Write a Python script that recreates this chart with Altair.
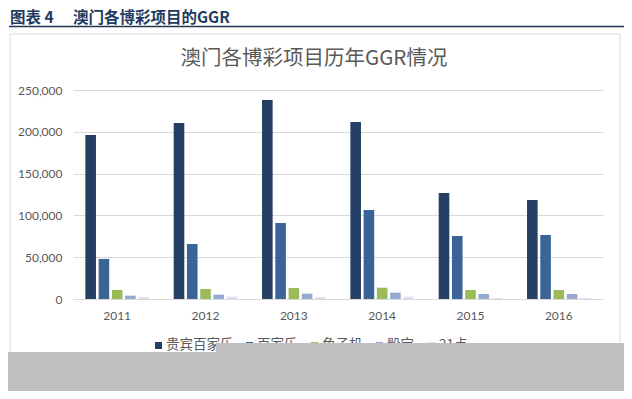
import altair as alt
import pandas as pd

# ---- data ----
years = ["2011", "2012", "2013", "2014", "2015", "2016"]
series = ["贵宾百家乐", "百家乐", "角子机", "骰宝", "21点"]
vip = [196200, 210500, 238000, 211700, 126800, 118400]
mass = [47900, 65800, 90900, 106500, 75400, 76600]
slot = [10800, 12000, 13200, 13500, 10800, 10800]
sicbo = [4000, 5200, 6400, 7600, 6000, 6000]
blackjack = [2400, 2800, 2400, 2800, 1200, 1200]
y_ticks = [0, 50000, 100000, 150000, 200000, 250000]

header_left = "图表 4"
header_right = "澳门各博彩项目的GGR"
chart_title = "澳门各博彩项目历年GGR情况"

colors = ["#243F63", "#3A6497", "#9BBB59", "#95AAD3", "#DCE3EE"]

values = [vip, mass, slot, sicbo, blackjack]
rows = []
for s, vals in zip(series, values):
    for yr, v in zip(years, vals):
        rows.append({"year": yr, "series": s, "value": v})
df = pd.DataFrame(rows)

one = pd.DataFrame({"k": [0]})

# page -> plot coordinate offsets (plot origin at page 73, 90)
OX, OY = 73, 90
CJK = "Noto Sans CJK SC"
GRAY_TXT = "#595959"

bars = alt.Chart(df).mark_bar().encode(
    x=alt.X("year:N", sort=years,
            scale=alt.Scale(paddingInner=0.25, paddingOuter=0.125),
            axis=alt.Axis(title=None, labelAngle=0, ticks=False, domain=True,
                          domainColor="#D9D9D9", labelColor=GRAY_TXT,
                          labelFont="Lato", labelFontSize=12, labelPadding=11, grid=False)),
    xOffset=alt.XOffset("series:N", sort=series,
                        scale=alt.Scale(paddingInner=0.2, paddingOuter=0.1)),
    y=alt.Y("value:Q", scale=alt.Scale(domain=[0, 250000], nice=False),
            axis=alt.Axis(title=None, values=y_ticks, format=",.0f", ticks=False,
                          domain=False, grid=True, gridColor="#D9D9D9",
                          labelColor=GRAY_TXT, labelFont="Lato", labelFontSize=12,
                          labelPadding=11)),
    color=alt.Color("series:N", sort=series,
                    scale=alt.Scale(domain=series, range=colors), legend=None),
)

box = alt.Chart(one).mark_rect(fill="transparent", stroke="#D9D9D9", strokeWidth=1).encode(
    x=alt.value(10 - OX), x2=alt.value(620 - OX),
    y=alt.value(34 - OY), y2=alt.value(370 - OY))

header_rule = alt.Chart(one).mark_rule(color="#1F3650", strokeWidth=1.5).encode(
    x=alt.value(9 - OX), x2=alt.value(625 - OX), y=alt.value(26.5 - OY))

hdr1 = alt.Chart(pd.DataFrame({"t": [header_left]})).mark_text(
    align="left", baseline="alphabetic", font=CJK, fontSize=15.5, fontWeight="bold",
    color="#1F3A60").encode(text="t:N", x=alt.value(10 - OX), y=alt.value(23 - OY))
hdr2 = alt.Chart(pd.DataFrame({"t": [header_right]})).mark_text(
    align="left", baseline="alphabetic", font=CJK, fontSize=15.5, fontWeight="bold",
    color="#1F3A60").encode(text="t:N", x=alt.value(73 - OX), y=alt.value(23 - OY))

title = alt.Chart(pd.DataFrame({"t": [chart_title]})).mark_text(
    align="center", baseline="middle", font=CJK, fontSize=20.5, color=GRAY_TXT).encode(
    text="t:N", x=alt.value(314 - OX), y=alt.value(59 - OY))

# manual legend (partly hidden under the grey area)
def label_w(s):
    return sum(7.5 if c.isascii() else 13 for c in s)

legend_layers = []
lx = 155
for s, c in zip(series, colors):
    legend_layers.append(alt.Chart(one).mark_square(size=49, color=c, opacity=1).encode(
        x=alt.value(lx + 3.5 - OX), y=alt.value(345.5 - OY)))
    legend_layers.append(alt.Chart(pd.DataFrame({"t": [s]})).mark_text(
        align="left", baseline="middle", font=CJK, fontSize=13.5, color=GRAY_TXT).encode(
        text="t:N", x=alt.value(lx + 11 - OX), y=alt.value(345 - OY)))
    lx += 11 + label_w(s) + 15

GREY = "#C1BFC2"
grey1 = alt.Chart(one).mark_rect(color=GREY).encode(
    x=alt.value(216 - OX), x2=alt.value(640 - OX), y=alt.value(343 - OY), y2=alt.value(400 - OY))
grey2 = alt.Chart(one).mark_rect(color=GREY).encode(
    x=alt.value(0 - OX), x2=alt.value(217 - OX), y=alt.value(352 - OY), y2=alt.value(400 - OY))

chart = alt.layer(box, header_rule, hdr1, hdr2, title, bars, *legend_layers, grey1, grey2).properties(
    width=530, height=209,
    autosize=alt.AutoSizeParams(type="none"),
    padding={"left": 65, "top": 82, "right": 21, "bottom": 92},
).configure_view(stroke=None)

chart.save("out.html", embed_options={"renderer": "svg", "actions": False})
